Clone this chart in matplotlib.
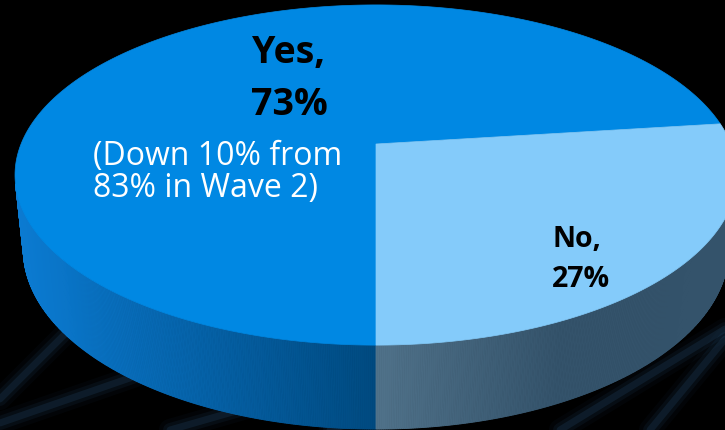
import numpy as np
import matplotlib.pyplot as plt
from matplotlib.patches import Polygon
from matplotlib.colors import to_rgb

# Survey answers
labels = ['Yes', 'No']
values = [73, 27]
note_lines = ['(Down 10% from', '83% in Wave 2)']

top_colors = ['#0088e3', '#84cbfa']
# side shading: (left colour, right colour) for each slice
side_colors = [('#0b7bd2', '#004a80'), ('#50728a', '#34536b')]

# camera setup for the tilted pie
elev = np.radians(27.6)
dist = 4.86
depth = 0.239
cx, cy, scale = 376, 145, 1725


def project(t, z=0.0):
    # project a point on the pie rim (angle t, height z) onto the figure
    X, Y = np.cos(t), np.sin(t)
    ce, se = np.cos(elev), np.sin(elev)
    d = dist + Y * ce - z * se
    sx = X / d
    sy = (Y * se + z * ce) / d
    return cx + scale * sx, cy - scale * sy


fig = plt.figure(figsize=(7.25, 4.31), dpi=100)
fig.patch.set_facecolor('black')
ax = fig.add_axes([0, 0, 1, 1])
ax.set_facecolor('black')
ax.set_xlim(0, 725)
ax.set_ylim(431, 0)
ax.axis('off')

# faint network streaks behind the pie
streaks = [((0, 400), (75, 325)), ((0, 424), (150, 372)), ((170, 431), (250, 408)),
           ((330, 431), (380, 414)), ((650, 431), (725, 340)), ((560, 431), (725, 330))]
for (x0, y0), (x1, y1) in streaks:
    for lw, a in [(16, 0.05), (10, 0.10), (5, 0.18)]:
        ax.plot([x0, x1], [y0, y1], color='#2d5f8a', lw=lw, alpha=a,
                solid_capstyle='round', zorder=1)

# slice angles: "No" starts at the front and runs counter-clockwise
total = sum(values)
no_start = -90.0
no_end = no_start + values[1] / total * 360
bounds = [(no_end, no_start + 360), (no_start, no_end)]

# visible part of the rim (faces turned towards the camera)
lim = np.degrees(np.arcsin(1 / (dist * np.cos(elev))))
side_ranges = [(-180 + lim, no_start), (no_start, -lim)]

for i, (s0, s1) in enumerate(side_ranges):
    tt = np.radians(np.linspace(s0, s1, 300))
    xa, ya = project(tt, 0)
    xb, yb = project(tt, -depth)
    c0, c1 = np.array(to_rgb(side_colors[i][0])), np.array(to_rgb(side_colors[i][1]))
    x_first, x_last = (xa.min(), cx) if i == 0 else (cx, cx + 185)
    for j in range(len(tt) - 1):
        xm = 0.5 * (xa[j] + xa[j + 1])
        f = np.clip((xm - x_first) / (x_last - x_first), 0, 1)
        col = c0 + (c1 - c0) * f
        quad = [(xa[j], ya[j]), (xa[j + 1], ya[j + 1]),
                (xb[j + 1], yb[j + 1]), (xb[j], yb[j])]
        ax.add_patch(Polygon(quad, closed=True, facecolor=col, edgecolor=col,
                             lw=0.6, zorder=2))

# top faces
for i, (b0, b1) in enumerate(bounds):
    tt = np.radians(np.linspace(b0, b1, 400))
    xs, ys = project(tt, 0)
    pts = [(cx, cy)] + list(zip(xs, ys))
    ax.add_patch(Polygon(pts, closed=True, facecolor=top_colors[i],
                         edgecolor=top_colors[i], lw=0.5, zorder=3))

# labels
bold = dict(ha='center', va='baseline', fontweight='bold', family='Open Sans',
            color='black', zorder=5)
ax.text(289, 63, f'{labels[0]},', fontsize=27, **bold)
ax.text(289, 115, f'{values[0]}%', fontsize=27, **bold)
ax.text(577, 247, f'{labels[1]},', fontsize=20.5, **bold)
ax.text(581, 287, f'{values[1]}%', fontsize=20.5, **bold)
for k, line in enumerate(note_lines):
    ax.text(93, 165 + 32 * k, line, ha='left', va='baseline', fontsize=23,
            family='Open Sans', color='white', zorder=5)

fig.savefig('out.png', dpi=100, facecolor='black')
